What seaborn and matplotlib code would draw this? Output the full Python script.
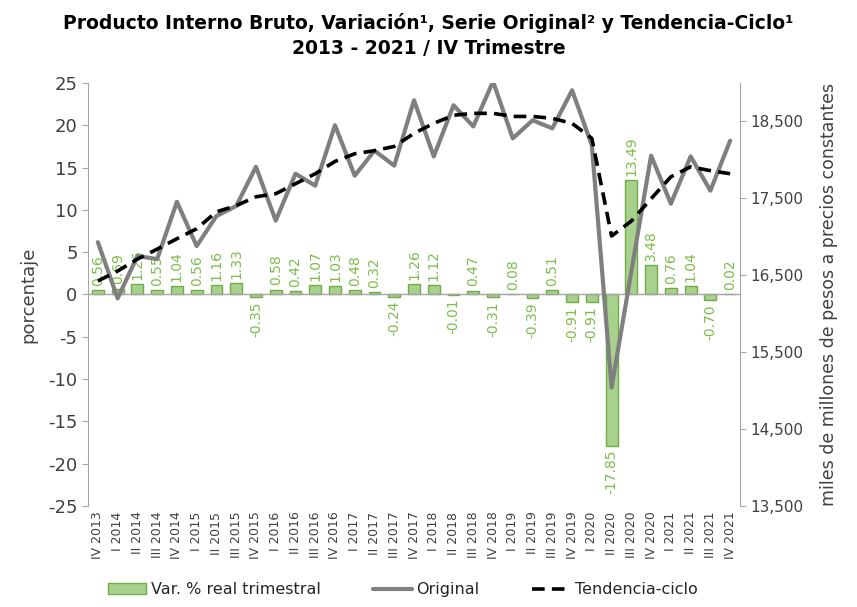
import numpy as np
import pandas as pd
import matplotlib
matplotlib.use("Agg")
import matplotlib.pyplot as plt
import matplotlib.ticker as mticker
from matplotlib.patches import Patch
from matplotlib.lines import Line2D
import seaborn as sns

# quarters IV 2013 .. IV 2021
quarters = ["IV 2013"]
for yr in range(2014, 2022):
    for q in ["I", "II", "III", "IV"]:
        quarters.append(f"{q} {yr}")

# quarterly real % change (bars)
var_pct = [0.56, 0.69, 1.26, 0.55, 1.04, 0.56, 1.16, 1.33, -0.35,
           0.58, 0.42, 1.07, 1.03, 0.48, 0.32, -0.24, 1.26,
           1.12, -0.01, 0.47, -0.31, 0.08, -0.39, 0.51, -0.91,
           -0.91, -17.85, 13.49, 3.48, 0.76, 1.04, -0.70, 0.02]

# original series, miles de millones de pesos
original = [16930, 16200, 16750, 16710, 17455, 16880, 17270, 17400, 17910,
            17210, 17820, 17665, 18450, 17795, 18120, 17925, 18775,
            18045, 18710, 18435, 19020, 18280, 18515, 18410, 18905,
            18190, 15040, 16550, 18055, 17430, 18045, 17600, 18250]

# trend-cycle
tendencia = [16425, 16555, 16710, 16840, 16975, 17105, 17325, 17405, 17520,
             17560, 17690, 17820, 17980, 18080, 18120, 18175, 18345,
             18475, 18580, 18605, 18605, 18565, 18565, 18540, 18475,
             18280, 17010, 17205, 17495, 17780, 17910, 17860, 17820]

df = pd.DataFrame({"quarter": quarters, "var": var_pct,
                   "original": original, "tendencia": tendencia})
df["pos"] = np.arange(len(df))

sns.set_style("white")
plt.rcParams["font.family"] = ["DejaVu Sans"]
plt.rcParams["axes.unicode_minus"] = False

green_face = "#a9d18e"
green_edge = "#70ad47"
green_text = "#7cbc4b"
gray_line = "#7f7f7f"
axis_gray = "#a6a6a6"

fig = plt.figure(figsize=(8.57, 6.07), dpi=100)
ax = fig.add_axes([0.1027, 0.1664, 0.7608, 0.6969])

sns.barplot(data=df, x="pos", y="var", color=green_face, width=0.6,
            edgecolor=green_edge, linewidth=1.0, saturation=1, ax=ax)
ax.bar_label(ax.containers[0], labels=[f"{v:.2f}" for v in var_pct],
             rotation=90, padding=3, fontsize=10, color=green_text)

ax.set_ylim(-25, 25)
ax.set_yticks(range(-25, 26, 5))
ax.set_xlim(-0.5, len(df) - 0.5)
ax.axhline(0, color=axis_gray, lw=1, zorder=1)
ax.set_xticks(df["pos"])
ax.set_xticklabels(quarters, rotation=90, fontsize=9, color="#404040")
ax.set_xlabel("")
ax.set_ylabel("porcentaje", fontsize=13, color="#404040", labelpad=8)
ax.tick_params(axis="y", labelsize=13, colors="#404040", length=4, color=axis_gray)
ax.tick_params(axis="x", length=0, pad=4)
for s in ["top", "bottom", "right"]:
    ax.spines[s].set_visible(False)
ax.spines["left"].set_color(axis_gray)

ax2 = ax.twinx()
sns.lineplot(x=df["pos"], y=df["original"], color=gray_line, lw=3, ax=ax2)
sns.lineplot(x=df["pos"], y=df["tendencia"], color="black", lw=2.6, ax=ax2)
ax2.lines[1].set_dashes([3.5, 2])
ax2.set_ylim(13500, 19000)
ax2.set_yticks(range(13500, 18501, 1000))
ax2.yaxis.set_major_formatter(mticker.FuncFormatter(lambda v, p: f"{int(v):,}"))
ax2.set_ylabel("miles de millones de pesos a precios constantes",
               fontsize=12.5, color="#404040", labelpad=12)
ax2.tick_params(axis="y", labelsize=11, colors="#404040", length=4, color=axis_gray)
for s in ["top", "bottom", "left"]:
    ax2.spines[s].set_visible(False)
ax2.spines["right"].set_color(axis_gray)
ax2.set_xlim(-0.5, len(df) - 0.5)
ax2.set_xlabel("")

fig.text(0.50, 0.962, "Producto Interno Bruto, Variación¹, Serie Original² y Tendencia-Ciclo¹",
         ha="center", va="center", fontsize=13.5, fontweight="bold", color="black")
fig.text(0.50, 0.920, "2013 - 2021 / IV Trimestre",
         ha="center", va="center", fontsize=13.5, fontweight="bold", color="black")

handles = [Patch(facecolor=green_face, edgecolor=green_edge),
           Line2D([0], [0], color=gray_line, lw=3),
           Line2D([0], [0], color="black", lw=2.6, dashes=[3.5, 2])]
fig.legend(handles, ["Var. % real trimestral", "Original", "Tendencia-ciclo"],
           loc="lower center", bbox_to_anchor=(0.47, -0.008), ncol=3, frameon=False,
           fontsize=11.5, columnspacing=3.3, handlelength=2.4, handletextpad=0.3)

fig.savefig("out.png", dpi=100)
